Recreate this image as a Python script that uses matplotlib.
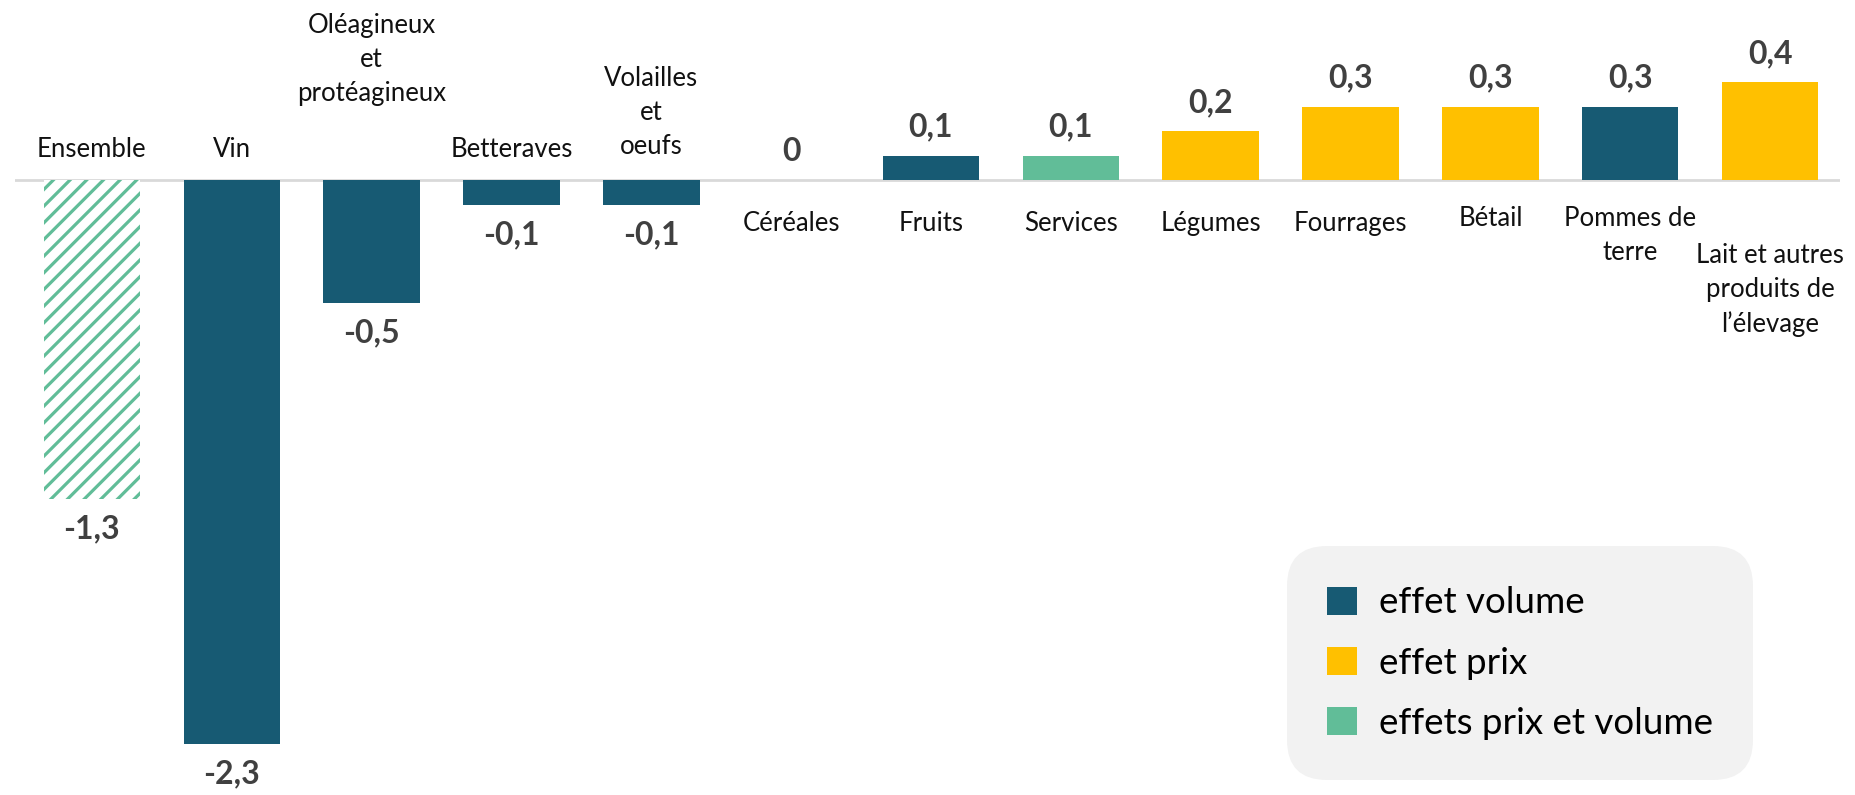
import matplotlib.pyplot as plt
from matplotlib.patches import Patch

plt.rcParams['font.family'] = ['Lato', 'DejaVu Sans']
plt.rcParams['hatch.linewidth'] = 2.3

# data
categories = ['Ensemble', 'Vin', 'Oléagineux\net\nprotéagineux', 'Betteraves',
              'Volailles\net\noeufs', 'Céréales', 'Fruits', 'Services', 'Légumes',
              'Fourrages', 'Bétail', 'Pommes de\nterre',
              'Lait et autres\nproduits de\nl’élevage']
values = [-1.3, -2.3, -0.5, -0.1, -0.1, 0.0, 0.1, 0.1, 0.2, 0.3, 0.3, 0.3, 0.4]
effects = ['both', 'volume', 'volume', 'volume', 'volume', 'volume', 'volume',
           'both', 'prix', 'prix', 'prix', 'volume', 'prix']
legend_labels = ['effet volume', 'effet prix', 'effets prix et volume']

colors = {'volume': '#175A73', 'prix': '#FFC000', 'both': '#61BD98'}
# extra vertical nudge (points) for a few category labels
label_nudge = {2: 40, 4: 2, 10: 3, 11: 3, 12: -23}

fig = plt.figure(figsize=(18.56, 7.95), dpi=100)
ax = fig.add_axes([15 / 1856, 0, (1840 - 15) / 1856, 1])

for i, (v, e) in enumerate(zip(values, effects)):
    if i == 0:
        # aggregate bar, hatched
        ax.bar(i, v, width=0.69, color='white', edgecolor=colors['both'],
               hatch='//', linewidth=0, zorder=2)
    else:
        ax.bar(i, v, width=0.69, color=colors[e], linewidth=0, zorder=2)

ax.axhline(0, color='#D9D9D9', lw=2, zorder=1)
ax.set_xlim(-0.55, 12.5)
ax.set_ylim(-2.51, 0.735)
ax.axis('off')

for i, v in enumerate(values):
    txt = ('%.1f' % v).replace('.', ',') if v != 0 else '0'
    if v < 0:
        ax.annotate(txt, (i, v), xytext=(0, -11), textcoords='offset points',
                    ha='center', va='top', fontsize=23, fontweight='bold',
                    color='#404040')
        ax.annotate(categories[i], (i, 0), xytext=(0, 13 + label_nudge.get(i, 0)),
                    textcoords='offset points', ha='center', va='bottom',
                    fontsize=18.5, color='#111111', linespacing=1.45)
    else:
        ax.annotate(txt, (i, v), xytext=(0, 10), textcoords='offset points',
                    ha='center', va='bottom', fontsize=23, fontweight='bold',
                    color='#404040')
        ax.annotate(categories[i], (i, 0), xytext=(0, -22 + label_nudge.get(i, 0)),
                    textcoords='offset points', ha='center', va='top',
                    fontsize=18.5, color='#111111', linespacing=1.45)

handles = [Patch(facecolor=colors[k]) for k in ['volume', 'prix', 'both']]
leg = fig.legend(handles, legend_labels, loc='upper left',
                 bbox_to_anchor=(1287 / 1856, 1 - 546 / 795), fontsize=26.5,
                 frameon=True, fancybox=True, facecolor='#F2F2F2', edgecolor='none',
                 framealpha=1, handlelength=0.8, handleheight=0.8,
                 handletextpad=0.6, labelspacing=0.74, borderpad=1.1,
                 borderaxespad=0)
leg.get_frame().set_boxstyle('round', pad=0, rounding_size=1.1)

fig.savefig('out.png', dpi=100)
